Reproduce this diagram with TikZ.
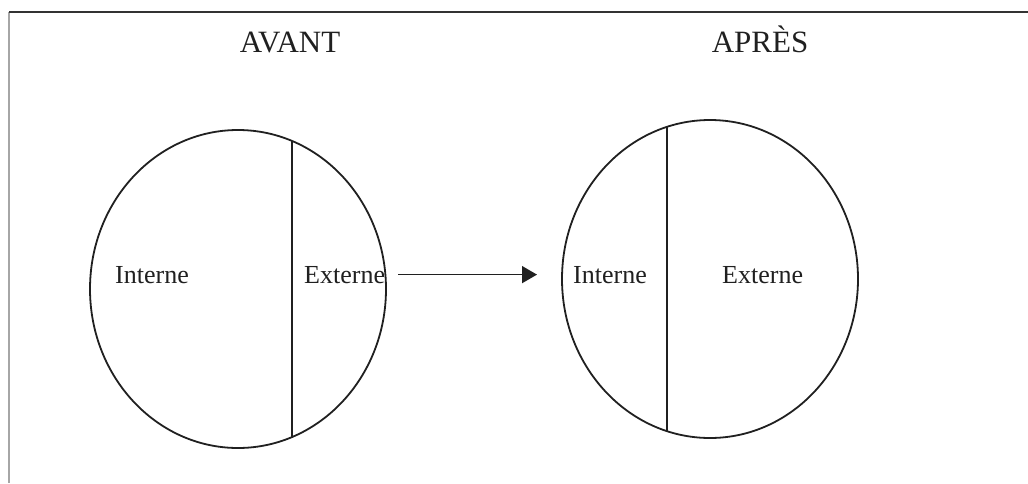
\documentclass[tikz,border=0pt]{standalone}
\usepackage{fontspec}
\setmainfont{Liberation Serif}
\usetikzlibrary{shapes.geometric,arrows.meta}
\definecolor{ink}{HTML}{202020}
\tikzset{
  x=1pt, y=-1pt,
  circ/.style={ellipse, draw=ink, line width=1.8pt, inner sep=0pt,
               minimum width=296pt, minimum height=318pt},
  divider/.style={draw=ink, line width=2pt},
  title/.style={font=\fontsize{31}{36}\selectfont, text=ink, anchor=base, inner sep=0pt},
  lbl/.style={font=\fontsize{26}{30}\selectfont, text=ink, anchor=base west, inner sep=0pt},
  topline/.style={draw=gray!40!black, line width=1.8pt},
  sideline/.style={draw=gray!70, line width=1.6pt},
  arr/.style={draw=ink, line width=1.6pt, -{Triangle[length=15pt,width=17pt]}}
}
\begin{document}
\begin{tikzpicture}
\useasboundingbox (0,0) rectangle (1028,483);

% page frame (top and left rules)
\draw[sideline] (9,483) -- (9,12);
\draw[topline] (9,12) -- (1028,12);

% headings
\node[title] (avant) at (290,52) {AVANT};
\node[title] (apres) at (760,52) {APRÈS};

% before: large internal share
\node[circ] (lc) at (238,289) {};
\draw[divider] (292,141) -- (292,437);
\node[lbl] (lint) at (115,283) {Interne};
\node[lbl] (lext) at (304,283) {Externe};

% after: large external share
\node[circ] (rc) at (710,279) {};
\draw[divider] (667,127) -- (667,431);
\node[lbl] (rint) at (573,283) {Interne};
\node[lbl] (rext) at (722,283) {Externe};

% transition arrow
\draw[arr, shorten <=13pt, shorten >=36pt] (lext.east) -- (rint.west);
\end{tikzpicture}
\end{document}
